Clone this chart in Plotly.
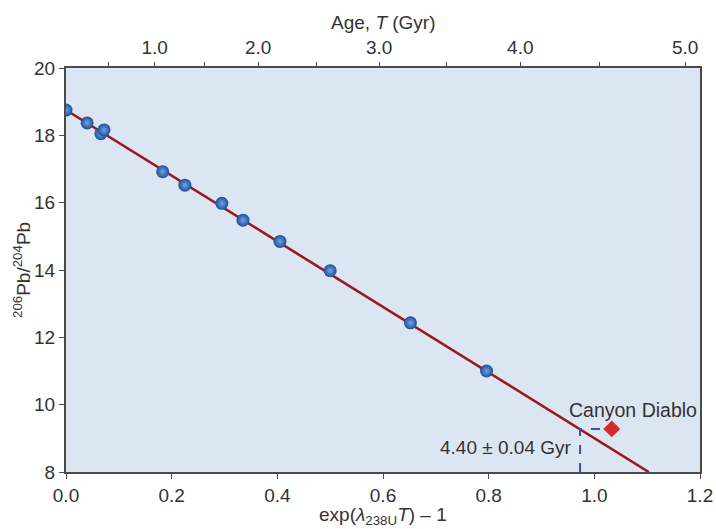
import math
import plotly.graph_objects as go

# ---- data ----
sample_x = [0.0, 0.040, 0.066, 0.072, 0.183, 0.225, 0.295, 0.335, 0.405, 0.500, 0.652, 0.796]
sample_y = [18.75, 18.37, 18.05, 18.16, 16.92, 16.52, 15.98, 15.48, 14.85, 13.98, 12.43, 11.00]

isochron_x = [0.0, 1.103]
isochron_y = [18.75, 8.0]

canyon_x = [1.033]
canyon_y = [9.28]

age_guide_x = [0.973, 0.973, 1.025]
age_guide_y = [8.0, 9.28, 9.28]

x_ticks = [0.0, 0.2, 0.4, 0.6, 0.8, 1.0, 1.2]
y_ticks = [8, 10, 12, 14, 16, 18, 20]
age_major = [1.0, 2.0, 3.0, 4.0, 5.0]
age_minor = [0.5, 1.5, 2.5, 3.5, 4.5]
lambda_238 = 0.155125  # per Gyr

def age_to_x(t):
    return math.exp(lambda_238 * t) - 1

FONT = "Liberation Sans, Arial, Helvetica, sans-serif"
TXT = "#333333"
AX = "#4a4a4a"
FS = 19

fig = go.Figure()

fig.add_trace(go.Scatter(x=isochron_x, y=isochron_y, mode="lines",
                         line=dict(color="#9a1a1f", width=2.6), hoverinfo="skip"))
fig.add_trace(go.Scatter(x=age_guide_x, y=age_guide_y, mode="lines",
                         line=dict(color="#3450b8", width=2, dash="dash"), hoverinfo="skip"))
fig.add_trace(go.Scatter(x=sample_x, y=sample_y, mode="markers",
                         marker=dict(size=13, color="#1d4f99",
                                     gradient=dict(type="radial", color="#6ea3e6"),
                                     line=dict(width=0))))
fig.add_trace(go.Scatter(x=canyon_x, y=canyon_y, mode="markers",
                         marker=dict(symbol="diamond", size=13, color="#d42b2b", line=dict(width=0))))
# invisible trace on top axis so it is drawn
fig.add_trace(go.Scatter(x=[0.5], y=[14], xaxis="x2", mode="markers",
                         marker=dict(opacity=0), hoverinfo="skip"))

fig.add_annotation(x=1.073, y=9.84, text="Canyon Diablo", showarrow=False,
                   font=dict(size=19.5, color=TXT, family=FONT), xanchor="center", yanchor="middle")
fig.add_annotation(x=0.962, y=8.72, text="4.40 ± 0.04 Gyr", showarrow=False,
                   font=dict(size=FS, color=TXT, family=FONT), xanchor="right", yanchor="middle")

# axis titles placed as paper annotations
fig.add_annotation(xref="paper", yref="paper", x=0.5, y=1, yshift=46,
                   text="Age, <i>T</i> (Gyr)", showarrow=False,
                   font=dict(size=FS, color=TXT, family=FONT), xanchor="center", yanchor="middle")
fig.add_annotation(xref="paper", yref="paper", x=0.5, y=0, yshift=-44,
                   text="exp(<i>λ</i><sub>238U</sub><i>T</i>) – 1", showarrow=False,
                   font=dict(size=FS, color=TXT, family=FONT), xanchor="center", yanchor="middle")
fig.add_annotation(xref="paper", yref="paper", x=0, xshift=-44, y=0.5,
                   text="<sup>206</sup>Pb/<sup>204</sup>Pb", showarrow=False, textangle=-90,
                   font=dict(size=FS, color=TXT, family=FONT), xanchor="center", yanchor="middle")

top_vals = [age_to_x(t) for t in age_major] + [age_to_x(t) for t in age_minor]
top_text = [f"{t:.1f}" for t in age_major] + ["" for _ in age_minor]

common = dict(showgrid=False, zeroline=False, ticks="outside", ticklen=5,
              tickcolor=AX, tickwidth=1, tickfont=dict(size=FS, color=TXT), automargin=False)

fig.update_layout(
    width=716, height=529,
    margin=dict(l=66, r=16, t=68, b=57),
    paper_bgcolor="white",
    plot_bgcolor="#dce6f2",
    showlegend=False,
    font=dict(family=FONT, size=FS, color=TXT),
    xaxis=dict(range=[0, 1.2], tickvals=x_ticks, ticktext=[f"{v:.1f}" for v in x_ticks],
               showline=True, linecolor=AX, linewidth=2, mirror=True, **common),
    xaxis2=dict(range=[0, 1.2], overlaying="x", side="top", anchor="y",
                tickvals=top_vals, ticktext=top_text, showline=False, **common),
    yaxis=dict(range=[8, 20], tickvals=y_ticks,
               showline=True, linecolor=AX, linewidth=2, mirror=True, **common),
)

fig.write_html("out.html", config={"displayModeBar": False},
               post_script="document.body.style.margin='0';document.body.style.overflow='hidden';")
